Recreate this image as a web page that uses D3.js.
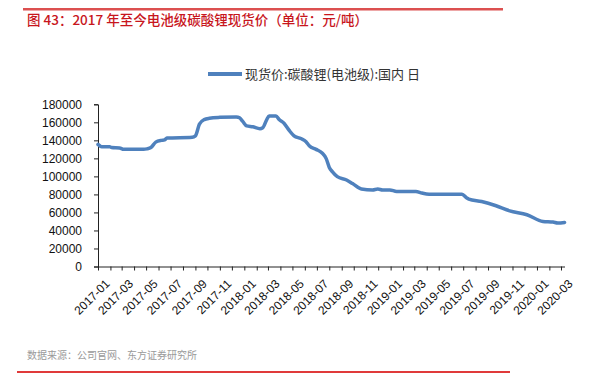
<!DOCTYPE html>
<html>
<head>
<meta charset="utf-8">
<script src="https://cdn.jsdelivr.net/npm/d3@7/dist/d3.min.js"></script>
<style>
  html, body { margin: 0; padding: 0; background: #fff; }
  svg { display: block; }
</style>
</head>
<body>
<svg id="chart" width="599" height="385"></svg>
<script>
// ---- data ----
const dates = [
  "2017-01-01","2017-01-10","2017-01-30","2017-02-04","2017-02-24","2017-03-06",
  "2017-04-25","2017-05-03","2017-05-13","2017-05-25","2017-06-08","2017-06-16",
  "2017-06-22","2017-08-24","2017-09-01","2017-09-11","2017-09-23","2017-10-06",
  "2017-11-01","2017-12-12","2017-12-20","2017-12-28","2018-01-07","2018-01-22",
  "2018-02-09","2018-02-16","2018-02-26","2018-03-04","2018-03-21","2018-03-29",
  "2018-04-10","2018-04-23","2018-05-05","2018-05-22","2018-06-04","2018-06-12",
  "2018-06-29","2018-07-14","2018-07-24","2018-08-01","2018-08-09","2018-08-21",
  "2018-09-13","2018-09-28","2018-10-20","2018-11-17","2018-11-30","2018-12-12",
  "2018-12-30","2019-01-16","2019-03-05","2019-03-20","2019-04-07","2019-06-28",
  "2019-07-10","2019-07-15","2019-08-16","2019-09-21","2019-10-25","2019-12-07",
  "2020-01-16","2020-02-10","2020-02-22","2020-03-10"
];
const prices = [
  135500,133000,133000,132000,131500,130000,
  130000,130500,132000,138000,140000,140500,
  142500,143500,145000,158000,163000,164500,
  165500,166000,165000,161000,156000,155000,
  153000,154000,163000,167000,167000,163000,
  159000,151000,145000,142000,138500,134000,
  130000,126000,120000,110000,105000,99700,
  96000,92000,86000,85000,86000,85000,
  85000,83200,83200,81500,80300,80300,
  76000,74800,72100,67400,61800,57400,
  50000,49300,48200,48900
];
const yTicks = [0,20000,40000,60000,80000,100000,120000,140000,160000,180000];
const seriesName = "现货价:碳酸锂(电池级):国内 日";
const titleText = "图 43：2017 年至今电池级碳酸锂现货价（单位：元/吨）";
const sourceText = "数据来源：公司官网、东方证券研究所";

// ---- drawing ----
const svg = d3.select("#chart");
const parse = d3.timeParse("%Y-%m-%d");
const data = dates.map((d, i) => ({ date: parse(d), value: prices[i] }));

const pl = 98, pr = 565, pt = 104.3, pb = 266.5;
const x = d3.scaleTime()
  .domain([parse("2017-01-01"), parse("2020-03-11")])
  .range([pl, pr]);
const y = d3.scaleLinear().domain([0, 180000]).range([pb, pt]);

// decorative rules
svg.append("rect").attr("x", 23).attr("y", 8).attr("width", 480).attr("height", 2.5)
  .attr("fill", "#dc5050");
svg.append("rect").attr("x", 17).attr("y", 371).attr("width", 493).attr("height", 2)
  .attr("fill", "#e03a3a");

// title
svg.append("text").attr("x", 27).attr("y", 25)
  .attr("font-family", "'Noto Sans CJK SC', sans-serif")
  .attr("font-size", 13.5).attr("font-weight", 500)
  .attr("fill", "#c8161d").text(titleText);

// source
svg.append("text").attr("x", 27).attr("y", 359)
  .attr("font-family", "'Noto Sans CJK SC', sans-serif")
  .attr("font-size", 10).attr("fill", "#9a9a9a").text(sourceText);

// legend
svg.append("line").attr("x1", 208).attr("x2", 242).attr("y1", 74).attr("y2", 74)
  .attr("stroke", "#4f81bd").attr("stroke-width", 4);
svg.append("text").attr("x", 245).attr("y", 78.5)
  .attr("font-family", "'Noto Sans CJK SC', sans-serif")
  .attr("font-size", 13).attr("fill", "#333").text(seriesName);

// y axis
const yAxis = svg.append("g").attr("transform", `translate(${pl},0)`)
  .call(d3.axisLeft(y).tickValues(yTicks).tickFormat(d3.format("d")).tickSize(4).tickPadding(12));
yAxis.selectAll("text").attr("font-family", "'Liberation Sans', Arial, sans-serif")
  .attr("font-size", 12).attr("fill", "#111");
yAxis.selectAll("line,path").attr("stroke", "#222");

// x axis
const months = d3.timeMonth.range(parse("2017-01-01"), parse("2020-03-11"));
const xAxis = svg.append("g").attr("transform", `translate(0,${pb})`)
  .call(d3.axisBottom(x).tickValues(months).tickSize(4).tickSizeOuter(0)
    .tickFormat((d, i) => i % 2 === 0 ? d3.timeFormat("%Y-%m")(d) : ""));
xAxis.select(".domain").attr("d", `M${pl},0.5H${pr}`);
xAxis.selectAll("line,path").attr("stroke", "#222");
xAxis.selectAll("text")
  .attr("font-family", "'Liberation Sans', Arial, sans-serif")
  .attr("font-size", 12).attr("fill", "#111")
  .attr("text-anchor", "end")
  .attr("dy", "0.35em")
  .attr("transform", "translate(4,10) rotate(-45)");

// line
const line = d3.line().x(d => x(d.date)).y(d => y(d.value)).curve(d3.curveMonotoneX);
svg.append("path").datum(data).attr("d", line)
  .attr("fill", "none").attr("stroke", "#4f81bd").attr("stroke-width", 3.5)
  .attr("stroke-linejoin", "round").attr("stroke-linecap", "round");
</script>
</body>
</html>
